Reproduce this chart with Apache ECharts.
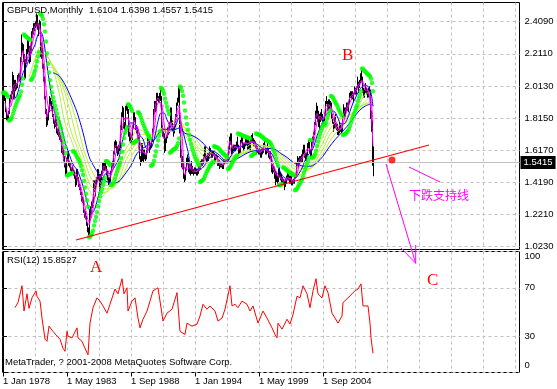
<!DOCTYPE html>
<html><head><meta charset="utf-8">
<script src="https://cdn.jsdelivr.net/npm/echarts@6/dist/echarts.min.js"></script>
<style>html,body{margin:0;padding:0;background:#fff}#c{width:557px;height:389px}</style>
</head><body><div id="c"></div>
<script>
// Monthly GBPUSD bars, Jan 1978 .. Nov 2008 (month index 0 = Jan 1978)
const priceHigh = [
1.97,1.96,1.94,1.87,1.84,1.86,1.94,1.96,1.98,2.10,2.08,2.05,
2.05,2.03,2.08,2.09,2.09,2.19,2.33,2.28,2.27,2.21,2.18,2.24,
2.30,2.30,2.26,2.26,2.35,2.37,2.40,2.40,2.41,2.46,2.45,2.40,
2.42,2.41,2.28,2.26,2.15,2.07,1.95,1.87,1.84,1.88,1.95,1.94,
1.92,1.89,1.84,1.80,1.83,1.81,1.75,1.75,1.73,1.71,1.70,1.64,
1.63,1.58,1.54,1.57,1.61,1.61,1.55,1.54,1.51,1.52,1.50,1.49,
1.46,1.50,1.50,1.45,1.41,1.39,1.36,1.33,1.32,1.25,1.24,1.21,
1.17,1.14,1.25,1.27,1.30,1.31,1.43,1.43,1.43,1.45,1.50,1.50,
1.47,1.47,1.49,1.54,1.54,1.55,1.54,1.52,1.49,1.45,1.45,1.49,
1.54,1.55,1.61,1.67,1.68,1.67,1.64,1.65,1.67,1.77,1.85,1.89,
1.88,1.79,1.89,1.90,1.90,1.87,1.73,1.72,1.71,1.77,1.85,1.85,
1.82,1.77,1.75,1.71,1.70,1.58,1.66,1.66,1.62,1.62,1.59,1.62,
1.70,1.71,1.70,1.66,1.69,1.75,1.87,1.92,1.92,1.97,1.97,1.95,
1.97,2.00,1.95,1.77,1.75,1.72,1.69,1.71,1.76,1.76,1.79,1.88,
1.88,1.80,1.76,1.78,1.84,1.91,1.94,2.01,2.01,1.78,1.62,1.58,
1.55,1.47,1.51,1.57,1.59,1.57,1.53,1.51,1.55,1.52,1.50,1.51,
1.51,1.50,1.50,1.52,1.52,1.55,1.56,1.56,1.59,1.64,1.64,1.58,
1.60,1.60,1.64,1.63,1.61,1.61,1.61,1.60,1.59,1.59,1.58,1.56,
1.56,1.55,1.54,1.53,1.56,1.56,1.56,1.57,1.57,1.64,1.70,1.72,
1.72,1.64,1.65,1.65,1.65,1.67,1.70,1.65,1.63,1.68,1.71,1.70,
1.66,1.66,1.69,1.69,1.68,1.68,1.67,1.69,1.71,1.72,1.69,1.68,
1.67,1.65,1.64,1.62,1.63,1.62,1.63,1.63,1.66,1.68,1.65,1.63,
1.66,1.63,1.61,1.61,1.58,1.53,1.52,1.51,1.49,1.48,1.46,1.50,
1.51,1.48,1.47,1.45,1.44,1.43,1.44,1.46,1.48,1.48,1.46,1.46,
1.46,1.43,1.44,1.46,1.47,1.54,1.58,1.57,1.58,1.58,1.59,1.62,
1.65,1.65,1.60,1.60,1.66,1.68,1.67,1.62,1.67,1.70,1.73,1.79,
1.86,1.91,1.89,1.86,1.84,1.85,1.87,1.84,1.82,1.85,1.92,1.95,
1.92,1.93,1.93,1.92,1.91,1.84,1.79,1.82,1.84,1.78,1.78,1.75,
1.79,1.78,1.76,1.83,1.90,1.88,1.88,1.91,1.91,1.92,1.97,1.98,
1.98,1.98,1.97,2.01,2.00,2.01,2.07,2.04,2.05,2.09,2.12,2.07,
2.00,1.99,2.03,2.00,1.99,2.00,2.01,1.99,1.86,1.80,1.6398
];
const priceLow = [
1.91,1.92,1.85,1.80,1.80,1.81,1.84,1.91,1.93,1.96,1.93,1.94,
1.98,1.99,2.00,2.05,2.04,2.05,2.16,2.22,2.16,2.05,2.06,2.15,
2.21,2.22,2.15,2.16,2.23,2.31,2.33,2.35,2.37,2.38,2.36,2.32,
2.37,2.19,2.18,2.12,2.04,1.93,1.84,1.76,1.77,1.80,1.85,1.89,
1.86,1.82,1.78,1.75,1.76,1.72,1.71,1.70,1.68,1.67,1.60,1.59,
1.55,1.51,1.46,1.47,1.55,1.52,1.51,1.49,1.48,1.48,1.46,1.44,
1.39,1.40,1.43,1.39,1.37,1.34,1.30,1.29,1.23,1.20,1.19,1.15,
1.11,1.08,1.09,1.20,1.22,1.26,1.29,1.36,1.33,1.40,1.42,1.43,
1.38,1.40,1.43,1.46,1.49,1.49,1.49,1.46,1.43,1.40,1.41,1.42,
1.47,1.51,1.52,1.59,1.63,1.60,1.58,1.59,1.61,1.63,1.74,1.82,
1.75,1.74,1.76,1.86,1.84,1.70,1.67,1.66,1.66,1.68,1.75,1.79,
1.74,1.72,1.68,1.67,1.56,1.52,1.54,1.55,1.54,1.56,1.55,1.56,
1.60,1.66,1.60,1.62,1.63,1.67,1.73,1.84,1.85,1.86,1.92,1.91,
1.91,1.92,1.73,1.70,1.69,1.60,1.61,1.66,1.69,1.71,1.72,1.77,
1.77,1.73,1.70,1.72,1.76,1.82,1.89,1.91,1.72,1.57,1.51,1.50,
1.44,1.42,1.43,1.49,1.53,1.48,1.47,1.46,1.47,1.47,1.46,1.47,
1.47,1.46,1.46,1.47,1.49,1.50,1.52,1.52,1.53,1.57,1.55,1.54,
1.55,1.55,1.57,1.59,1.57,1.57,1.58,1.53,1.54,1.56,1.52,1.52,
1.50,1.51,1.51,1.50,1.50,1.53,1.54,1.54,1.55,1.55,1.62,1.65,
1.59,1.60,1.61,1.61,1.61,1.62,1.63,1.58,1.58,1.60,1.66,1.63,
1.61,1.62,1.64,1.65,1.62,1.62,1.62,1.61,1.67,1.67,1.64,1.64,
1.63,1.59,1.60,1.59,1.59,1.57,1.57,1.59,1.60,1.63,1.59,1.59,
1.60,1.57,1.56,1.56,1.48,1.47,1.48,1.44,1.40,1.42,1.41,1.42,
1.45,1.43,1.41,1.41,1.40,1.37,1.39,1.41,1.43,1.43,1.41,1.41,
1.40,1.40,1.41,1.41,1.44,1.45,1.52,1.51,1.52,1.54,1.54,1.54,
1.59,1.57,1.55,1.55,1.58,1.63,1.60,1.57,1.58,1.65,1.67,1.71,
1.77,1.81,1.79,1.76,1.75,1.79,1.80,1.78,1.77,1.79,1.83,1.90,
1.86,1.86,1.87,1.86,1.81,1.78,1.73,1.75,1.75,1.74,1.71,1.71,
1.72,1.73,1.72,1.73,1.82,1.82,1.82,1.86,1.86,1.85,1.90,1.94,
1.93,1.93,1.91,1.96,1.96,1.96,2.00,1.97,2.00,2.03,2.04,1.97,
1.94,1.94,1.97,1.96,1.94,1.94,1.97,1.81,1.73,1.52,1.4557
];
const lastBarOHLC = [1.6104, 1.6398, 1.4557, 1.5415];

// Parabolic SAR dots, one per month (month 0 .. 370)
const sarValues = [
1.970,1.970,1.970,1.965,1.955,1.946,1.800,1.803,1.809,1.819,1.841,1.862,
1.881,1.899,1.915,1.930,1.944,1.956,1.979,2.021,2.058,2.330,2.324,2.318,
2.313,2.308,2.303,2.298,2.050,2.056,2.069,2.089,2.108,2.132,2.165,2.195,
2.221,2.460,2.455,2.444,2.425,2.394,2.348,2.287,2.213,2.150,2.095,2.048,
2.008,1.973,1.943,1.917,1.890,1.868,1.841,1.815,1.792,1.770,1.750,1.720,
1.694,1.665,1.634,1.599,1.460,1.463,1.466,1.469,1.472,1.475,1.610,1.607,
1.600,1.587,1.575,1.564,1.554,1.539,1.519,1.493,1.465,1.427,1.386,1.347,
1.308,1.268,1.080,1.083,1.091,1.104,1.121,1.152,1.180,1.205,1.234,1.271,
1.303,1.331,1.355,1.375,1.401,1.423,1.446,1.550,1.548,1.543,1.534,1.526,
1.400,1.403,1.409,1.421,1.441,1.465,1.487,1.506,1.523,1.539,1.567,1.607,
1.652,1.690,1.722,1.740,1.760,1.900,1.896,1.887,1.873,1.860,1.660,1.664,
1.668,1.672,1.676,1.850,1.846,1.835,1.816,1.798,1.781,1.765,1.750,1.736,
1.723,1.711,1.700,1.689,1.520,1.523,1.532,1.552,1.581,1.608,1.644,1.677,
1.706,1.732,2.000,1.995,1.983,1.965,1.936,1.909,1.884,1.861,1.840,1.600,
1.606,1.611,1.617,1.622,1.626,1.631,1.642,1.660,1.688,2.010,2.001,1.981,
1.952,1.911,1.862,1.818,1.778,1.742,1.710,1.681,1.655,1.632,1.611,1.592,
1.575,1.560,1.546,1.533,1.522,1.420,1.423,1.428,1.433,1.442,1.458,1.473,
1.486,1.498,1.509,1.519,1.529,1.538,1.546,1.640,1.638,1.636,1.634,1.629,
1.625,1.618,1.610,1.603,1.597,1.591,1.586,1.581,1.576,1.500,1.503,1.511,
1.524,1.536,1.547,1.557,1.567,1.576,1.585,1.720,1.717,1.714,1.712,1.709,
1.706,1.703,1.701,1.698,1.696,1.693,1.691,1.689,1.580,1.583,1.588,1.594,
1.599,1.720,1.717,1.715,1.712,1.710,1.704,1.699,1.694,1.689,1.684,1.680,
1.676,1.672,1.668,1.662,1.655,1.641,1.624,1.609,1.589,1.563,1.540,1.520,
1.400,1.402,1.404,1.406,1.510,1.508,1.502,1.497,1.492,1.487,1.482,1.478,
1.474,1.470,1.466,1.462,1.370,1.372,1.379,1.391,1.402,1.413,1.423,1.436,
1.454,1.478,1.499,1.517,1.533,1.551,1.572,1.680,1.678,1.570,1.573,1.579,
1.592,1.613,1.643,1.670,1.694,1.716,1.735,1.753,1.769,1.783,1.770,1.788,
1.811,1.830,1.847,1.861,1.950,1.947,1.940,1.927,1.915,1.904,1.893,1.878,
1.864,1.852,1.840,1.830,1.710,1.714,1.717,1.721,1.729,1.736,1.747,1.765,
1.787,1.806,1.823,1.839,1.860,1.878,1.894,1.918,1.940,1.959,1.980,2.120,
2.117,2.110,2.103,2.097,2.090,2.084,2.079,2.073,2.057,2.031,1.980
];

// fast averages, read at quarter ends
const qMonths = [2,5,8,11,14,17,20,23,26,29,32,35,38,41,44,47,50,53,56,59,62,65,68,71,
74,77,80,83,86,89,92,95,98,101,104,107,110,113,116,119,122,125,128,131,134,137,140,143,
146,149,152,155,158,161,164,167,170,173,176,179,182,185,188,191,194,197,200,203,206,209,212,215,
218,221,224,227,230,233,236,239,242,245,248,251,254,257,260,263,266,269,272,275,278,281,284,287,
290,293,296,299,302,305,308,311,314,317,320,323,326,329,332,335,338,341,344,347,350,353,356,359,
362,365,368,370];
const magentaFast = [
1.913,1.830,1.947,2.020,2.027,2.100,2.230,2.153,2.223,2.307,2.383,2.403,
2.283,2.047,1.820,1.900,1.833,1.770,1.717,1.640,1.527,1.563,1.510,1.473,
1.443,1.377,1.287,1.190,1.157,1.277,1.410,1.457,1.450,1.520,1.477,1.443,
1.553,1.647,1.630,1.823,1.807,1.817,1.693,1.803,1.727,1.603,1.607,1.587,
1.677,1.687,1.877,1.940,1.880,1.687,1.710,1.793,1.750,1.833,1.893,1.537,
1.463,1.537,1.497,1.483,1.487,1.520,1.553,1.583,1.597,1.597,1.573,1.553,
1.520,1.537,1.557,1.673,1.627,1.640,1.620,1.670,1.657,1.657,1.673,1.663,
1.617,1.600,1.627,1.620,1.597,1.523,1.477,1.453,1.443,1.420,1.447,1.440,
1.417,1.480,1.553,1.573,1.600,1.627,1.617,1.733,1.843,1.807,1.807,1.890,
1.897,1.840,1.777,1.740,1.753,1.847,1.880,1.943,1.963,1.997,2.027,2.047,
1.987,1.983,1.860,1.643];
const magentaSlow = [
null,1.872,1.889,1.984,2.024,2.064,2.165,2.192,2.188,2.265,2.345,2.393,
2.343,2.165,1.934,1.860,1.867,1.802,1.744,1.679,1.584,1.545,1.537,1.492,
1.458,1.410,1.332,1.239,1.174,1.217,1.344,1.434,1.454,1.485,1.499,1.460,
1.498,1.600,1.639,1.727,1.815,1.812,1.755,1.748,1.765,1.665,1.605,1.597,
1.632,1.682,1.782,1.909,1.910,1.784,1.699,1.752,1.772,1.792,1.863,1.715,
1.500,1.500,1.517,1.490,1.485,1.504,1.537,1.568,1.590,1.597,1.585,1.563,
1.537,1.529,1.547,1.615,1.650,1.634,1.630,1.645,1.664,1.657,1.665,1.668,
1.640,1.609,1.614,1.624,1.609,1.560,1.500,1.465,1.448,1.432,1.434,1.444,
1.429,1.449,1.517,1.563,1.587,1.614,1.622,1.675,1.788,1.825,1.807,1.849,
1.894,1.869,1.809,1.759,1.747,1.800,1.864,1.912,1.953,1.980,2.012,2.037,
2.017,1.985,1.922,1.785];
const blueFast = [
null,null,null,1.928,1.956,2.024,2.094,2.128,2.177,2.228,2.267,2.329,
2.344,2.279,2.138,2.013,1.900,1.831,1.805,1.740,1.664,1.612,1.560,1.518,
1.497,1.451,1.395,1.324,1.253,1.228,1.259,1.325,1.399,1.459,1.476,1.473,
1.498,1.530,1.568,1.663,1.727,1.769,1.785,1.780,1.760,1.707,1.685,1.631,
1.619,1.640,1.707,1.795,1.846,1.846,1.804,1.768,1.735,1.772,1.817,1.753,
1.682,1.608,1.509,1.495,1.501,1.497,1.511,1.536,1.563,1.583,1.588,1.580,
1.561,1.546,1.542,1.572,1.599,1.624,1.640,1.639,1.647,1.651,1.664,1.663,
1.653,1.638,1.627,1.616,1.611,1.592,1.554,1.513,1.474,1.448,1.441,1.438,
1.431,1.446,1.473,1.506,1.552,1.588,1.604,1.644,1.705,1.750,1.798,1.837,
1.850,1.859,1.851,1.814,1.778,1.779,1.805,1.856,1.908,1.946,1.983,2.009,
2.015,2.011,1.969,1.886];

// slow averages, read every six months
const slowMonths = [26,32,38,44,50,56,62,68,74,80,86,92,98,104,110,116,122,128,134,140,146,152,158,164,170,176,182,188,194,200,206,212,218,224,230,236,242,248,254,260,266,272,278,284,290,296,302,308,314,320,326,332,338,344,350,356,362,368];
const greenA = [2.066,2.180,2.260,2.202,2.122,1.972,1.782,1.683,1.580,1.478,1.375,1.327,1.326,1.367,1.448,1.522,1.613,1.677,1.743,1.735,1.689,1.696,1.732,1.756,1.791,1.811,1.708,1.663,1.591,1.510,1.532,1.549,1.562,1.565,1.580,1.591,1.623,1.652,1.650,1.646,1.632,1.591,1.543,1.498,1.453,1.457,1.491,1.538,1.628,1.701,1.778,1.824,1.814,1.828,1.843,1.894,1.961,1.976];
const greenB = [null,2.122,2.213,2.195,2.135,2.046,1.894,1.733,1.638,1.531,1.417,1.369,1.352,1.360,1.393,1.486,1.581,1.641,1.694,1.716,1.714,1.708,1.739,1.726,1.759,1.805,1.749,1.670,1.627,1.580,1.526,1.543,1.547,1.559,1.582,1.590,1.605,1.631,1.650,1.642,1.638,1.605,1.562,1.521,1.484,1.465,1.483,1.517,1.588,1.664,1.739,1.784,1.809,1.824,1.853,1.877,1.918,1.953];
const greenC = [null,null,2.159,2.166,2.140,2.070,1.969,1.834,1.687,1.587,1.471,1.405,1.383,1.377,1.383,1.434,1.541,1.610,1.662,1.679,1.702,1.726,1.742,1.732,1.733,1.776,1.754,1.710,1.639,1.612,1.582,1.536,1.542,1.547,1.574,1.590,1.602,1.615,1.633,1.644,1.637,1.615,1.579,1.541,1.505,1.489,1.486,1.506,1.563,1.625,1.702,1.751,1.778,1.818,1.845,1.880,1.900,1.919];
const greenD = [null,null,null,2.127,2.124,2.083,2.000,1.907,1.781,1.636,1.528,1.453,1.411,1.399,1.394,1.420,1.489,1.572,1.632,1.654,1.673,1.713,1.752,1.735,1.738,1.752,1.737,1.720,1.678,1.625,1.609,1.582,1.536,1.542,1.561,1.582,1.600,1.611,1.619,1.630,1.639,1.617,1.591,1.558,1.525,1.507,1.503,1.505,1.546,1.597,1.663,1.717,1.750,1.790,1.837,1.869,1.899,1.903];
const blueSlow = [null,null,null,null,2.094,2.076,2.021,1.942,1.851,1.725,1.578,1.505,1.453,1.422,1.412,1.424,1.469,1.522,1.596,1.629,1.651,1.686,1.738,1.745,1.740,1.753,1.720,1.709,1.691,1.660,1.620,1.606,1.577,1.537,1.556,1.570,1.592,1.608,1.615,1.618,1.627,1.621,1.596,1.572,1.542,1.524,1.517,1.518,1.540,1.579,1.634,1.681,1.721,1.764,1.810,1.859,1.888,1.902];

// RSI(12): month index / value
const rsiMonths = [12,15,19,21,24,26,29,33,34,37,39,42,44,46,50,54,57,60,62,64,65,69,74,75,79,82,85,87,90,94,97,100,104,107,112,115,119,121,124,125,129,132,135,137,140,144,147,150,155,157,160,164,169,174,177,182,184,189,194,197,200,204,207,212,215,219,222,227,229,232,235,239,244,247,250,255,260,264,269,272,274,275,279,284,287,290,294,297,300,304,307,310,313,315,319,322,325,329,332,335,339,340,345,349,352,355,358,360,362,365,367,368,369,370];
const rsiValues = [53.6,57.8,71.7,50.8,65,53,61.7,67.5,63,59,45,27.5,25.8,38.3,34,30,27.5,20,17.5,34,30,28.6,36.9,28.6,25.8,20,14.6,40.8,53.6,61.7,59,55,49,56.4,69,65,77.5,65,70,50.8,59,61.7,45,36.9,44,50.8,59,67.5,70,69,42.5,49,52.3,66,34,31.4,40.8,38.3,40,46.7,56.4,52.3,55,50.8,42.5,45,52.3,71.7,55,56.4,53.6,59,56.4,50.8,55,40.8,50.8,45,36.9,31.4,28.6,40.8,35.8,44,40,48,63,61.7,71.7,65,53.6,67.5,77.5,65,61.7,71.7,66,49,45,40.8,46.7,57.8,61.7,65,67.5,69,73.3,55,53.6,55,40.8,28.6,22,15.8527];
const rsiLast = 15.8527;

// axis ticks
const priceTicks = [1.0230,1.2210,1.4190,1.6170,1.8150,2.0130,2.2110,2.4090];
const rsiTicks = [0,30,70,100];
const monthGridTicks = [0,32,64,96,128,160,192,224,256,288,320,352,384,416,448,480,512];
const dateLabelMonths = [0,64,128,192,256,320];
const dateLabels = ['1 Jan 1978','1 May 1983','1 Sep 1988','1 Jan 1994','1 May 1999','1 Sep 2004'];

// hand-drawn annotations (month index, price)
const supportLine = [[73,1.0625],[426,1.6485]];
const supportDot = [[389,1.556]];
const pointerLine = [[406,1.5128],[437,1.4203]];
const arrowShaft = [[383,1.5313],[412.7,0.9188]];
const arrowHead = [[398,1.0132],[412.7,0.9188],[412.7,1.0317]];

const FONT = '"Liberation Sans", Arial, sans-serif';
const FS = 9.5;
const dash = {color:'#c0c0c0', type:[3,3], width:1};
const pair = (xs, ys) => xs.map((x,i)=>[x, ys[i]]);
const priceData = priceHigh.map((h,i)=>[i, priceLow[i], h]);
const sarData = sarValues.map((v,i)=>[i, v]);

function maLine(name, xs, ys, color, z){
  return {name, type:'line', xAxisIndex:0, yAxisIndex:0, data:pair(xs, ys), showSymbol:false, smooth:0.3,
    connectNulls:false, z, lineStyle:{color, width:1}};
}

const chart = echarts.init(document.getElementById('c'), null, {renderer:'canvas'});
const option = {
  animation:false,
  backgroundColor:'#fff',
  grid:[
    {left:2.5, top:2.5, width:517, height:247, show:true, borderColor:'#000', borderWidth:1, backgroundColor:'#fff'},
    {left:2.5, top:251.5, width:517, height:121, show:true, borderColor:'#000', borderWidth:1, backgroundColor:'#fff'}
  ],
  xAxis:[
    {gridIndex:0, type:'value', min:-0.5, max:516.5, axisLine:{show:false},
     axisTick:{show:false, customValues:monthGridTicks}, axisLabel:{show:false, customValues:monthGridTicks},
     splitLine:{show:true, lineStyle:dash}},
    {gridIndex:1, type:'value', min:-0.5, max:516.5, position:'bottom', axisLine:{show:false},
     axisTick:{show:false, customValues:monthGridTicks},
     axisLabel:{show:true, customValues:dateLabelMonths, formatter:v=>dateLabels[dateLabelMonths.indexOf(Math.round(v))]||'',
       align:'left', margin:3.5, color:'#000', fontFamily:FONT, fontSize:FS},
     splitLine:{show:true, lineStyle:dash}},
    {gridIndex:1, type:'value', min:-0.5, max:516.5, position:'bottom', axisLine:{show:false},
     axisTick:{show:true, customValues:dateLabelMonths, length:4, lineStyle:{color:'#000'}},
     axisLabel:{show:false}, splitLine:{show:false}}
  ],
  yAxis:[
    {gridIndex:0, type:'value', position:'right', min:1.0039, max:2.5274,
     axisLine:{show:true, lineStyle:{color:'#000'}},
     axisTick:{show:true, customValues:priceTicks, length:4, lineStyle:{color:'#000'}},
     axisLabel:{customValues:priceTicks, formatter:v=>v.toFixed(4), margin:5, color:'#000', fontFamily:FONT, fontSize:FS},
     splitLine:{show:true, lineStyle:dash}},
    {gridIndex:1, type:'value', position:'right', min:0, max:100,
     axisLine:{show:true, lineStyle:{color:'#000'}},
     axisTick:{show:true, customValues:rsiTicks, length:4, lineStyle:{color:'#000'}},
     axisLabel:{customValues:rsiTicks, margin:5, color:'#000', fontFamily:FONT, fontSize:FS,
       formatter:v=> v===100 ? '{t|100}' : (v===0 ? '{b|0}' : String(v)),
       rich:{t:{padding:[10,0,0,0], fontFamily:FONT, fontSize:FS, color:'#000'}, b:{padding:[0,0,14,0], fontFamily:FONT, fontSize:FS, color:'#000'}}},
     splitLine:{show:true, lineStyle:dash}}
  ],
  series:[
    {name:'lastPrice', type:'line', xAxisIndex:0, yAxisIndex:0, data:[], z:1,
     markLine:{silent:true, symbol:'none', animation:false,
       lineStyle:{color:'#c0c0c0', type:'solid', width:1},
       label:{show:true, position:'end', distance:1, formatter:()=>lastBarOHLC[3].toFixed(4),
         backgroundColor:'#000', color:'#fff', padding:[2,3,1,3], fontFamily:FONT, fontSize:FS},
       data:[{yAxis:lastBarOHLC[3]}]}},
    {name:'price', type:'custom', xAxisIndex:0, yAxisIndex:0, data:priceData, z:2,
     encode:{x:0, y:[1,2]},
     renderItem:(params, api)=>{
       const a = api.coord([api.value(0), api.value(1)]);
       const b = api.coord([api.value(0), api.value(2)]);
       const px = Math.round(a[0]) + 0.5;
       return {type:'line', shape:{x1:px, y1:a[1], x2:px, y2:b[1]}, style:{stroke:'#000', lineWidth:1}};
     }},
    maLine('greenD', slowMonths, greenD, '#b8f03c', 3),
    maLine('greenC', slowMonths, greenC, '#b8f03c', 3),
    maLine('greenB', slowMonths, greenB, '#b8f03c', 3),
    maLine('greenA', slowMonths, greenA, '#b8f03c', 3),
    maLine('blueSlow', slowMonths, blueSlow, '#0000ff', 3),
    maLine('blueFast', qMonths, blueFast, '#0000ff', 3),
    maLine('magentaSlow', qMonths, magentaSlow, '#ff00ff', 4),
    maLine('magentaFast', qMonths, magentaFast, '#ff00ff', 4),
    {name:'SAR', type:'scatter', xAxisIndex:0, yAxisIndex:0, data:sarData, symbol:'circle', symbolSize:4.5, z:5,
     itemStyle:{color:'#00ff00'}},
    {name:'support', type:'line', xAxisIndex:0, yAxisIndex:0, data:supportLine, showSymbol:false, z:6,
     lineStyle:{color:'#ff0000', width:1.2}},
    {name:'dot', type:'scatter', xAxisIndex:0, yAxisIndex:0, data:supportDot, symbolSize:7, z:6,
     itemStyle:{color:'#ff0000'}},
    {name:'pointer', type:'line', xAxisIndex:0, yAxisIndex:0, data:pointerLine, showSymbol:false, z:6,
     lineStyle:{color:'#ff00ff', width:1}},
    {name:'arrowShaft', type:'line', xAxisIndex:0, yAxisIndex:0, data:arrowShaft, showSymbol:false, clip:false, z:6,
     lineStyle:{color:'#ff00ff', width:1}},
    {name:'arrowHead', type:'line', xAxisIndex:0, yAxisIndex:0, data:arrowHead, showSymbol:false, clip:false, z:6,
     lineStyle:{color:'#ff00ff', width:1}},
    {name:'RSI', type:'line', xAxisIndex:1, yAxisIndex:1, data:pair(rsiMonths, rsiValues), showSymbol:false, z:3,
     lineStyle:{color:'#ff0000', width:1}}
  ],
  graphic:[
    {type:'text', left:7, top:5.5, z:50, style:{text:'GBPUSD,Monthly', fill:'#000', font:FS+'px '+FONT}},
    {type:'text', left:89, top:5.5, z:50, style:{text:lastBarOHLC.map(v=>v.toFixed(4)).join(' '), fill:'#000', font:FS+'px '+FONT}},
    {type:'text', left:7, top:255.5, z:50, style:{text:'RSI(12) '+rsiLast.toFixed(4), fill:'#000', font:FS+'px '+FONT}},
    {type:'text', left:5, top:357.5, z:50, style:{text:'MetaTrader, ? 2001-2008 MetaQuotes Software Corp.', fill:'#000', font:FS+'px '+FONT}},
    {type:'text', left:90, top:259, z:50, style:{text:'A', fill:'#ff0000', font:'17px "Liberation Serif"'}},
    {type:'text', left:342, top:47, z:50, style:{text:'B', fill:'#ff0000', font:'17px "Liberation Serif"'}},
    {type:'text', left:427, top:272, z:50, style:{text:'C', fill:'#ff0000', font:'17px "Liberation Serif"'}},
    {type:'text', left:409, top:189, z:50, style:{text:'下跌支持线', fill:'#ff00ff', font:'12px "Noto Sans CJK SC"'}}
  ]
};
chart.setOption(option);
</script>
</body></html>
